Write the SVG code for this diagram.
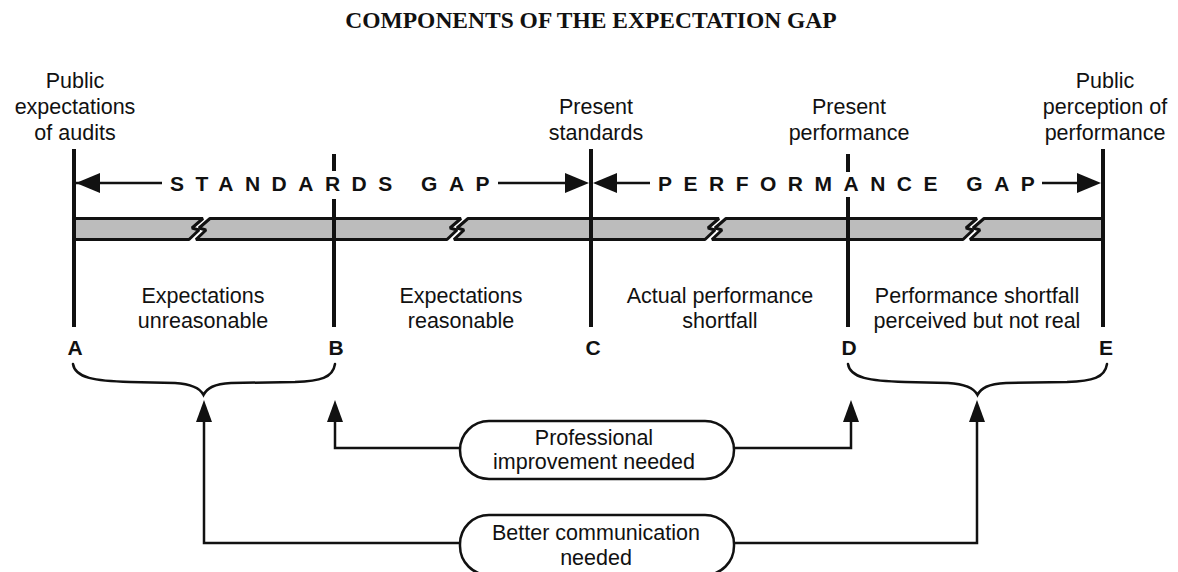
<svg xmlns="http://www.w3.org/2000/svg" width="1178" height="572" viewBox="0 0 1178 572">
<style>
.t{font-family:"Liberation Sans",Arial,sans-serif;font-size:21.5px;fill:#111;text-anchor:middle}
.gap{font-family:"Liberation Sans",Arial,sans-serif;font-size:21px;font-weight:bold;fill:#111;letter-spacing:11.5px}
.ltr{font-family:"Liberation Sans",Arial,sans-serif;font-size:21px;font-weight:bold;fill:#111;text-anchor:middle}
.title{font-family:"Liberation Serif","Times New Roman",serif;font-size:23.5px;font-weight:bold;fill:#111;text-anchor:middle}
.vl{stroke:#111;stroke-width:4;fill:none}
.ln{stroke:#111;stroke-width:2.5;fill:none}
.br{stroke:#111;stroke-width:2.5;fill:none;stroke-linecap:round}
.bar{fill:#bcbcbc;stroke:#111;stroke-width:3;stroke-linejoin:bevel}
.ah{fill:#111}
.pill{fill:#fff;stroke:#111;stroke-width:2.5}
</style>
<rect width="1178" height="572" fill="#fff"/>
<text class="title" x="591" y="28">COMPONENTS OF THE EXPECTATION GAP</text>

<g id="bar">
<polygon class="bar" points="74,218.5 203,218.5 192,228 199,230 189,239.5 74,239.5"/>
<polygon class="bar" points="210,218.5 461,218.5 450,228 457,230 447,239.5 196,239.5 206,230 199,228"/>
<polygon class="bar" points="468,218.5 719,218.5 708,228 715,230 705,239.5 454,239.5 464,230 457,228"/>
<polygon class="bar" points="726,218.5 977,218.5 966,228 973,230 963,239.5 712,239.5 722,230 715,228"/>
<polygon class="bar" points="984,218.5 1103,218.5 1103,239.5 970,239.5 980,230 973,228"/>
</g>

<g id="node-A">
<line class="vl" x1="74" y1="149" x2="74" y2="327"/>
<text class="t" x="75" y="88">Public</text>
<text class="t" x="75" y="114">expectations</text>
<text class="t" x="75" y="140">of audits</text>
<text class="ltr" x="75" y="355">A</text>
</g>
<g id="node-B">
<line class="vl" x1="334" y1="154" x2="334" y2="171"/>
<line class="vl" x1="334" y1="199" x2="334" y2="327"/>
<text class="ltr" x="336" y="355">B</text>
</g>
<g id="node-C">
<line class="vl" x1="591" y1="149" x2="591" y2="327"/>
<text class="t" x="596" y="114">Present</text>
<text class="t" x="596" y="140">standards</text>
<text class="ltr" x="593" y="355">C</text>
</g>
<g id="node-D">
<line class="vl" x1="848" y1="154" x2="848" y2="172"/>
<line class="vl" x1="848" y1="197" x2="848" y2="327"/>
<text class="t" x="849" y="114">Present</text>
<text class="t" x="849" y="140">performance</text>
<text class="ltr" x="849" y="355">D</text>
</g>
<g id="node-E">
<line class="vl" x1="1103" y1="149" x2="1103" y2="327"/>
<text class="t" x="1105" y="88">Public</text>
<text class="t" x="1105" y="114">perception of</text>
<text class="t" x="1105" y="140">performance</text>
<text class="ltr" x="1106" y="355">E</text>
</g>

<g id="standards-gap">
<text class="gap" x="170" y="191">STANDARDS GAP</text>
</g>
<g id="performance-gap">
<text class="gap" x="658" y="191">PERFORMANCE GAP</text>
</g>

<g id="segment-labels">
<text class="t" x="203" y="303">Expectations</text>
<text class="t" x="203" y="328">unreasonable</text>
<text class="t" x="461" y="303">Expectations</text>
<text class="t" x="461" y="328">reasonable</text>
<text class="t" x="720" y="303">Actual performance</text>
<text class="t" x="720" y="328">shortfall</text>
<text class="t" x="977" y="303">Performance shortfall</text>
<text class="t" x="977" y="328">perceived but not real</text>
</g>

<g id="brace-AB">
<path class="br" d="M73,364 C75,378 95,381 130,382 L175,383 C192,384 200,388 203.5,395 C207,388 214,384 231,383 L295,382 C320,381 333,378 335,364"/>
</g>
<g id="brace-DE">
<path class="br" d="M848,364 C850,378 870,381 905,382 L948,383 C966,384 974,388 977.5,395 C981,388 988,384 1006,383 L1067,382 C1092,381 1105,378 1107,364"/>
</g>

<g id="node-professional">
<rect class="pill" x="460" y="421" width="274" height="58" rx="29" ry="29"/>
<text class="t" x="594" y="445">Professional</text>
<text class="t" x="594" y="469">improvement needed</text>
</g>
<g id="node-communication">
<rect class="pill" x="460" y="515" width="274" height="60" rx="29" ry="29"/>
<text class="t" x="596" y="540">Better communication</text>
<text class="t" x="596" y="565">needed</text>
</g>

<g id="connectors">
<line class="ln" x1="76" y1="183" x2="162" y2="183"/>
<polygon class="ah" points="76,183 100,173 100,193"/>
<line class="ln" x1="498" y1="183" x2="570" y2="183"/>
<polygon class="ah" points="589,183 565,173 565,193"/>
<line class="ln" x1="610" y1="183" x2="650" y2="183"/>
<polygon class="ah" points="593,183 617,173 617,193"/>
<line class="ln" x1="1042" y1="183" x2="1085" y2="183"/>
<polygon class="ah" points="1101,183 1077,173 1077,193"/>

<polyline class="ln" points="460,448 335,448 335,418"/>
<polygon class="ah" points="335,400 327,422 343,422"/>
<polyline class="ln" points="734,448 851,448 851,418"/>
<polygon class="ah" points="851,400 843,422 859,422"/>

<polyline class="ln" points="460,543 204,543 204,418"/>
<polygon class="ah" points="204,400 196,422 212,422"/>
<polyline class="ln" points="734,543 977,543 977,418"/>
<polygon class="ah" points="977,400 969,422 985,422"/>
</g>
</svg>
